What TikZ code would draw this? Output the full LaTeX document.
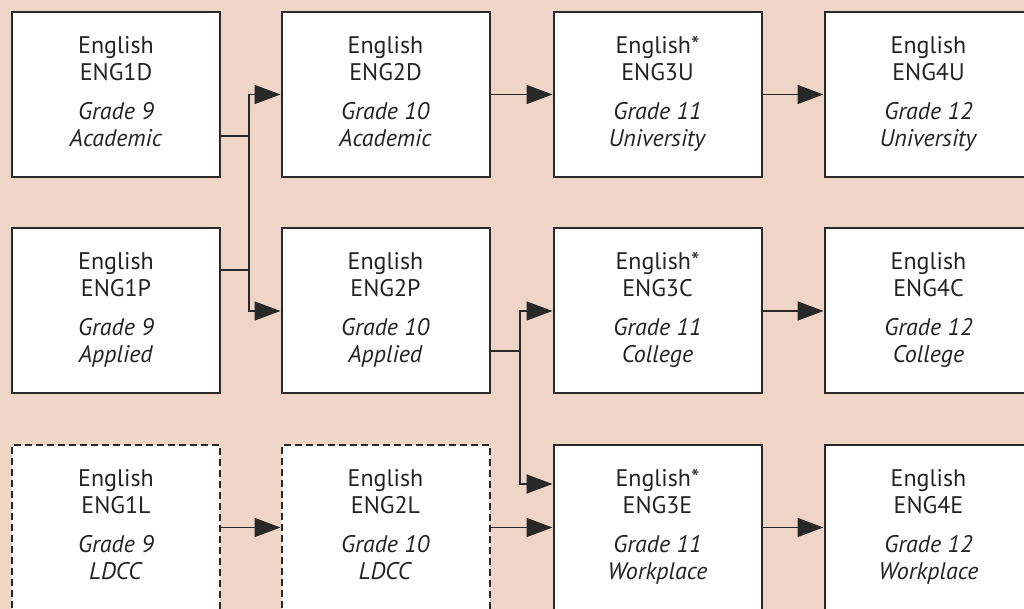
\documentclass[tikz,border=0pt]{standalone}
\usepackage{fontspec}
\setmainfont{PT Sans}
\usetikzlibrary{arrows.meta,calc}
\definecolor{bg}{RGB}{239,213,197}
\definecolor{linec}{RGB}{40,40,40}
\definecolor{txt}{RGB}{35,35,35}
\newcommand{\crs}[4]{\strut #1\\#2\\[6pt]\textit{#3}\\\textit{#4}\strut}
\begin{document}
\begin{tikzpicture}[x=0.5pt,y=-0.5pt,
  box/.style={draw=linec, line width=1pt, fill=white, minimum width=104pt, minimum height=82.5pt,
    inner sep=0pt, align=center, text=txt, font=\fontsize{12}{13.5}\selectfont},
  dbox/.style={box, dash pattern=on 3.5pt off 2pt},
  conn/.style={draw=linec, line width=0.85pt},
  arr/.style={conn, -{Triangle[length=13pt,width=9.5pt]}}]
\useasboundingbox (0,0) rectangle (1024,609);
\clip (0,0) rectangle (1024,609);
\fill[bg] (0,0) rectangle (1024,609);
% row 1
\node[box] (d1) at (116,94.5) {\crs{English}{ENG1D}{Grade 9}{Academic}};
\node[box] (d2) at (385.5,94.5) {\crs{English}{ENG2D}{Grade 10}{Academic}};
\node[box] (u3) at (657.5,94.5) {\crs{English\smash{*}}{ENG3U}{Grade 11}{University}};
\node[box] (u4) at (928.5,94.5) {\crs{English}{ENG4U}{Grade 12}{University}};
% row 2
\node[box] (p1) at (116,311) {\crs{English}{ENG1P}{Grade 9}{Applied}};
\node[box] (p2) at (385.5,311) {\crs{English}{ENG2P}{Grade 10}{Applied}};
\node[box] (c3) at (657.5,311) {\crs{English\smash{*}}{ENG3C}{Grade 11}{College}};
\node[box] (c4) at (928.5,311) {\crs{English}{ENG4C}{Grade 12}{College}};
% row 3
\node[dbox] (l1) at (116,527.5) {\crs{English}{ENG1L}{Grade 9}{LDCC}};
\node[dbox] (l2) at (385.5,527.5) {\crs{English}{ENG2L}{Grade 10}{LDCC}};
\node[box] (e3) at (657.5,527.5) {\crs{English\smash{*}}{ENG3E}{Grade 11}{Workplace}};
\node[box] (e4) at (928.5,527.5) {\crs{English}{ENG4E}{Grade 12}{Workplace}};
% junctions
\coordinate (ja) at (249,136);
\coordinate (jb) at (249,270);
\coordinate (jc) at (520,351);
\coordinate (je) at (520,484);
\draw[conn] (ja -| d1.east) -- (ja);
\draw[conn] (jb -| p1.east) -- (jb);
\draw[conn] (ja) -- (jb);
\draw[arr] (ja) |- (d2.west);
\draw[arr] (jb) |- (p2.west);
\draw[conn] (jc -| p2.east) -- (jc);
\draw[arr] (jc) |- (c3.west);
\draw[arr] (jc) -- (je) -- (je -| e3.west);
\draw[arr] (d2) -- (u3);
\draw[arr] (u3) -- (u4);
\draw[arr] (c3) -- (c4);
\draw[arr] (l1) -- (l2);
\draw[arr] (l2) -- (e3);
\draw[arr] (e3) -- (e4);
\end{tikzpicture}
\end{document}
